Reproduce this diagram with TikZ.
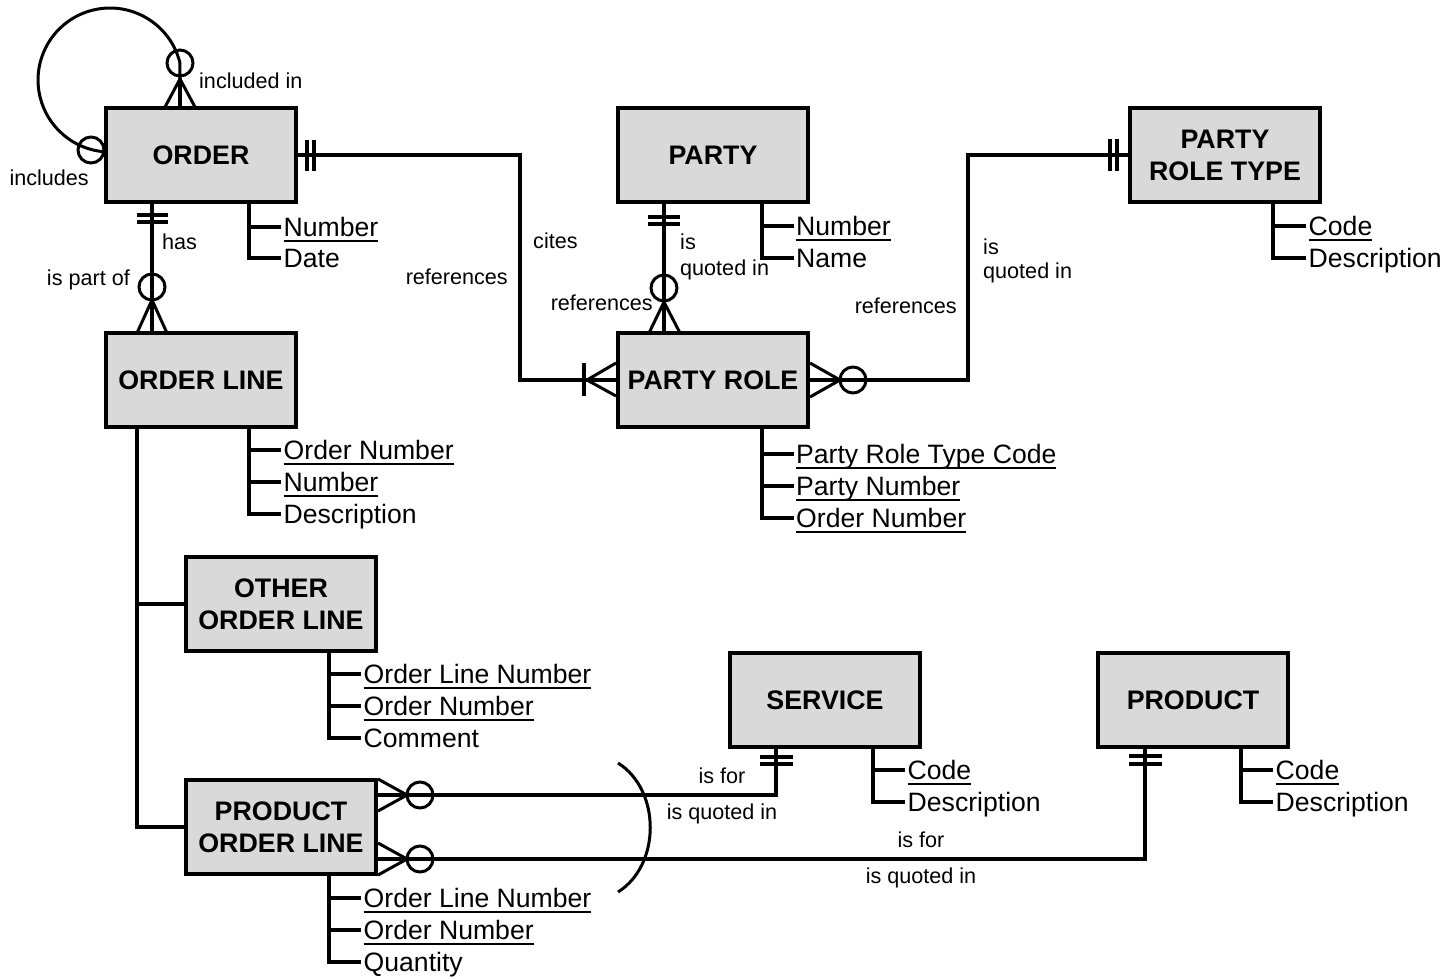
\documentclass[tikz,border=0pt]{standalone}
\usepackage{fontspec}
\setmainfont{Liberation Sans}
\usetikzlibrary{calc}
\newcommand\ulx[1]{\setbox0=\hbox{#1}\rlap{\rule[-5.3pt]{\wd0}{1.8pt}}\box0}
\definecolor{entfill}{RGB}{217,217,217}
\begin{document}
\begin{tikzpicture}[x=1pt,y=-1pt,
 ent/.style={draw=black,line width=3.5pt,fill=entfill,minimum width=190pt,minimum height=94pt,inner sep=0pt,align=center,font=\bfseries\fontsize{26.8}{32}\selectfont},
 attr/.style={anchor=west,inner xsep=2.5pt,inner ysep=0pt,text height=19pt,text depth=0pt,font=\fontsize{26.6}{32}\selectfont},
 lab/.style={inner sep=0pt,font=\fontsize{21.6}{25}\selectfont},
 conn/.style={line width=4pt},
 tree/.style={line width=4pt},
 mk/.style={line width=3pt},
 bar/.style={line width=3.8pt}]
\useasboundingbox (0,0) rectangle (1448,978);

% entities
\node[ent] (order) at (201,155) {ORDER};
\node[ent] (party) at (713,155) {PARTY};
\node[ent] (prt) at (1225,155) {PARTY\\ROLE TYPE};
\node[ent] (ol) at (201,380) {ORDER LINE};
\node[ent] (pr) at (713,380) {PARTY ROLE};
\node[ent] (ool) at (281,604) {OTHER\\ORDER LINE};
\node[ent] (pol) at (281,827) {PRODUCT\\ORDER LINE};
\node[ent] (svc) at (825,700) {SERVICE};
\node[ent] (prod) at (1193,700) {PRODUCT};

% attributes
\node[attr] (oa1) at (281,227) {\ulx{Number}};
\node[attr] (oa2) at (281,258) {Date};
\draw[tree] ([xshift=48pt]order.south) |- (oa2.west);
\draw[tree] ([xshift=48pt]order.south) |- (oa1.west);

\node[attr] (pa1) at (793.5,226) {\ulx{Number}};
\node[attr] (pa2) at (793.5,258) {Name};
\draw[tree] ([xshift=49pt]party.south) |- (pa2.west);
\draw[tree] ([xshift=49pt]party.south) |- (pa1.west);

\node[attr] (ta1) at (1306,226) {\ulx{Code}};
\node[attr] (ta2) at (1306,258) {Description};
\draw[tree] ([xshift=48pt]prt.south) |- (ta2.west);
\draw[tree] ([xshift=48pt]prt.south) |- (ta1.west);

\node[attr] (la1) at (281,450) {\ulx{Order Number}};
\node[attr] (la2) at (281,482) {\ulx{Number}};
\node[attr] (la3) at (281,514) {Description};
\draw[tree] ([xshift=48pt]ol.south) |- (la3.west);
\draw[tree] ([xshift=48pt]ol.south) |- (la1.west);
\draw[tree] ([xshift=48pt]ol.south) |- (la2.west);

\node[attr] (ra1) at (793.5,454) {\ulx{Party Role Type Code}};
\node[attr] (ra2) at (793.5,486) {\ulx{Party Number}};
\node[attr] (ra3) at (793.5,518) {\ulx{Order Number}};
\draw[tree] ([xshift=49pt]pr.south) |- (ra3.west);
\draw[tree] ([xshift=49pt]pr.south) |- (ra1.west);
\draw[tree] ([xshift=49pt]pr.south) |- (ra2.west);

\node[attr] (ea1) at (361,674) {\ulx{Order Line Number}};
\node[attr] (ea2) at (361,706) {\ulx{Order Number}};
\node[attr] (ea3) at (361,738) {Comment};
\draw[tree] ([xshift=48pt]ool.south) |- (ea3.west);
\draw[tree] ([xshift=48pt]ool.south) |- (ea1.west);
\draw[tree] ([xshift=48pt]ool.south) |- (ea2.west);

\node[attr] (qa1) at (361,898) {\ulx{Order Line Number}};
\node[attr] (qa2) at (361,930) {\ulx{Order Number}};
\node[attr] (qa3) at (361,962) {Quantity};
\draw[tree] ([xshift=48pt]pol.south) |- (qa3.west);
\draw[tree] ([xshift=48pt]pol.south) |- (qa1.west);
\draw[tree] ([xshift=48pt]pol.south) |- (qa2.west);

\node[attr] (sa1) at (905,770) {\ulx{Code}};
\node[attr] (sa2) at (905,802) {Description};
\draw[tree] ([xshift=48pt]svc.south) |- (sa2.west);
\draw[tree] ([xshift=48pt]svc.south) |- (sa1.west);

\node[attr] (da1) at (1273,770) {\ulx{Code}};
\node[attr] (da2) at (1273,802) {Description};
\draw[tree] ([xshift=48pt]prod.south) |- (da2.west);
\draw[tree] ([xshift=48pt]prod.south) |- (da1.west);

% ORDER self loop
\draw[conn] ([xshift=-21pt]order.north) -- (180,78);
\draw[mk] (180,78) -- (179.9,62.6) arc[start angle=14,end angle=264,radius=72pt] -- (order.west);
\draw[mk] (180,63) circle[radius=13pt];
\draw[mk] (165,107) -- (180,79) -- (195,107);
\draw[mk] (91,150) circle[radius=13pt];

% ORDER - ORDER LINE
\draw[conn] ([xshift=-49pt]order.south) -- ([xshift=-49pt]ol.north);
\draw[bar] (137,215) -- (168,215) (137,222) -- (168,222);
\draw[mk] (152,287) circle[radius=13pt];
\draw[mk] (137,333) -- (152,300) -- (167,333);

% ORDER - PARTY ROLE
\draw[conn] (order.east) -| (520,267) |- (pr.west);
\draw[bar] (307,140) -- (307,171) (314,140) -- (314,171);
\draw[bar] (584,363) -- (584,396);
\draw[mk] (616,363) -- (587,380) -- (616,396);

% PARTY - PARTY ROLE
\draw[conn] ([xshift=-49pt]party.south) -- ([xshift=-49pt]pr.north);
\draw[bar] (648,217) -- (680,217) (648,224) -- (680,224);
\draw[mk] (664,288) circle[radius=13pt];
\draw[mk] (649,333) -- (664,302) -- (680,333);

% PARTY ROLE TYPE - PARTY ROLE
\draw[conn] (pr.east) -| (968,267) |- (prt.west);
\draw[bar] (1110,139) -- (1110,171) (1117,139) -- (1117,171);
\draw[mk] (853,380) circle[radius=13pt];
\draw[mk] (810,363) -- (840,380) -- (810,397);

% subtypes
\draw[conn] ([xshift=-64pt]ol.south) |- (ool.west);
\draw[conn] ([xshift=-64pt]ol.south) |- (pol.west);

% PRODUCT ORDER LINE - SERVICE
\draw[conn] ([yshift=32pt]pol.east) -| ([xshift=-49pt]svc.south);
\draw[bar] (760,757) -- (793,757) (760,764) -- (793,764);
\draw[mk] (420,795) circle[radius=13pt];
\draw[mk] (378,779) -- (407,795) -- (378,811);

% PRODUCT ORDER LINE - PRODUCT
\draw[conn] ([yshift=-32pt]pol.east) -| ([xshift=-48pt]prod.south);
\draw[bar] (1129,756) -- (1162,756) (1129,764) -- (1162,764);
\draw[mk] (420,859) circle[radius=13pt];
\draw[mk] (378,843) -- (407,859) -- (378,875);

% exclusive arc
\draw[mk] (618,763) .. controls (661,790) and (661,865) .. (618,892);

% labels
\node[lab,anchor=base west] (l1) at (199,88) {included in};
\node[lab,anchor=base east] (l2) at (89,185) {includes};
\node[lab,anchor=base west] (l3) at (162,249) {has};
\node[lab,anchor=base east] (l4) at (130,285) {is part of};
\node[lab,anchor=base west] (l5) at (533,248) {cites};
\node[lab,anchor=base east] (l6) at (508,284) {references};
\node[lab,anchor=base west] (l7) at (680,249) {is};
\node[lab,anchor=base west] (l8) at (680,275) {quoted in};
\node[lab,anchor=base east] (l9) at (653,310) {references};
\node[lab,anchor=base west] (l10) at (983,254) {is};
\node[lab,anchor=base west] (l11) at (983,278) {quoted in};
\node[lab,anchor=base east] (l12) at (957,313) {references};
\node[lab,anchor=base] (l13) at (722,783) {is for};
\node[lab,anchor=base] (l14) at (722,819) {is quoted in};
\node[lab,anchor=base] (l15) at (921,847) {is for};
\node[lab,anchor=base] (l16) at (921,883) {is quoted in};
\end{tikzpicture}
\end{document}
